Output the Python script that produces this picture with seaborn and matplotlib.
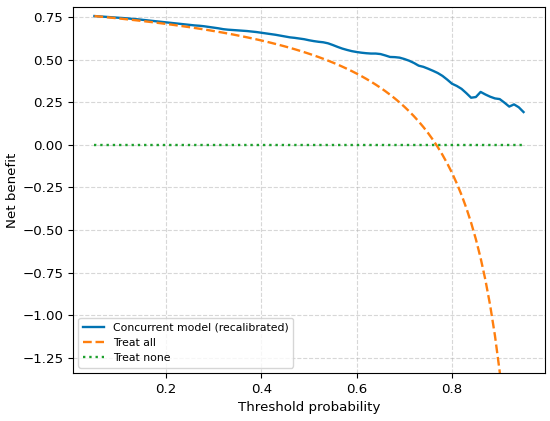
import numpy as np
import pandas as pd
import seaborn as sns
import matplotlib
matplotlib.use("Agg")
import matplotlib.pyplot as plt

# threshold grid (0.05 .. 0.95, step 0.01)
thresholds = np.round(np.linspace(0.05, 0.95, 91), 2)

model_nb = [
    0.755, 0.753, 0.751, 0.749, 0.747, 0.745, 0.743, 0.741, 0.738, 0.736,
    0.733, 0.730, 0.727, 0.724, 0.721, 0.718, 0.715, 0.712, 0.709, 0.706,
    0.703, 0.700, 0.698, 0.695, 0.691, 0.687, 0.683, 0.678, 0.675, 0.673,
    0.671, 0.669, 0.667, 0.664, 0.661, 0.657, 0.653, 0.649, 0.645, 0.640,
    0.635, 0.630, 0.627, 0.623, 0.619, 0.613, 0.608, 0.604, 0.601, 0.595,
    0.585, 0.574, 0.564, 0.556, 0.549, 0.544, 0.540, 0.537, 0.535, 0.535,
    0.532, 0.524, 0.515, 0.514, 0.511, 0.503, 0.493, 0.480, 0.464, 0.457,
    0.446, 0.434, 0.421, 0.404, 0.382, 0.358, 0.345, 0.328, 0.303, 0.276,
    0.280, 0.310, 0.295, 0.282, 0.272, 0.268, 0.247, 0.224, 0.237, 0.220,
    0.192,
]

treat_all_nb = [
    0.7547, 0.7521, 0.7495, 0.7467, 0.7440, 0.7411, 0.7382, 0.7352, 0.7322, 0.7291,
    0.7259, 0.7226, 0.7193, 0.7158, 0.7124, 0.7088, 0.7051, 0.7013, 0.6974, 0.6934,
    0.6893, 0.6851, 0.6808, 0.6764, 0.6718, 0.6671, 0.6623, 0.6574, 0.6522, 0.6470,
    0.6415, 0.6359, 0.6302, 0.6242, 0.6180, 0.6117, 0.6051, 0.5983, 0.5912, 0.5839,
    0.5764, 0.5685, 0.5604, 0.5519, 0.5431, 0.5340, 0.5245, 0.5146, 0.5043, 0.4935,
    0.4822, 0.4705, 0.4581, 0.4452, 0.4317, 0.4175, 0.4026, 0.3868, 0.3703, 0.3528,
    0.3343, 0.3147, 0.2939, 0.2719, 0.2484, 0.2233, 0.1966, 0.1679, 0.1370, 0.1039,
    0.0680, 0.0292, -0.0130, -0.0591, -0.1095, -0.1650, -0.2263, -0.2944, -0.3706, -0.4563,
    -0.5533, -0.6643, -0.7923, -0.9417, -1.1182, -1.3300, -1.5889, -1.9125, -2.3286, -2.8833,
    -3.6600,
]

treat_none_nb = [0.0] * len(thresholds)

df = pd.DataFrame({
    "threshold": thresholds,
    "model": model_nb,
    "all": treat_all_nb,
    "none": treat_none_nb,
})

fig, ax = plt.subplots(figsize=(5.5, 4.21), dpi=100)
fig.subplots_adjust(left=0.1327, right=0.9909, top=0.9834, bottom=0.114)

sns.lineplot(data=df, x="threshold", y="model", ax=ax, color="#0173b2",
             linewidth=1.7, label="Concurrent model (recalibrated)")
sns.lineplot(data=df, x="threshold", y="all", ax=ax, color="#ff7f0e",
             linewidth=1.7, linestyle="--", label="Treat all")
sns.lineplot(data=df, x="threshold", y="none", ax=ax, color="#1ca02c",
             linewidth=1.7, linestyle=":", label="Treat none")

ax.set_ylim(-1.338, 0.808)
ax.set_yticks([-1.25, -1.0, -0.75, -0.5, -0.25, 0.0, 0.25, 0.5, 0.75])
ax.set_xticks([0.2, 0.4, 0.6, 0.8])
ax.tick_params(labelsize=9.6)
ax.set_xlabel("Threshold probability", fontsize=9.6)
ax.set_ylabel("Net benefit", fontsize=9.6, labelpad=2.5)
ax.grid(True, linestyle="--", alpha=0.5)
ax.legend(loc="lower left", fontsize=7.8)

fig.savefig("out.png", dpi=100)
